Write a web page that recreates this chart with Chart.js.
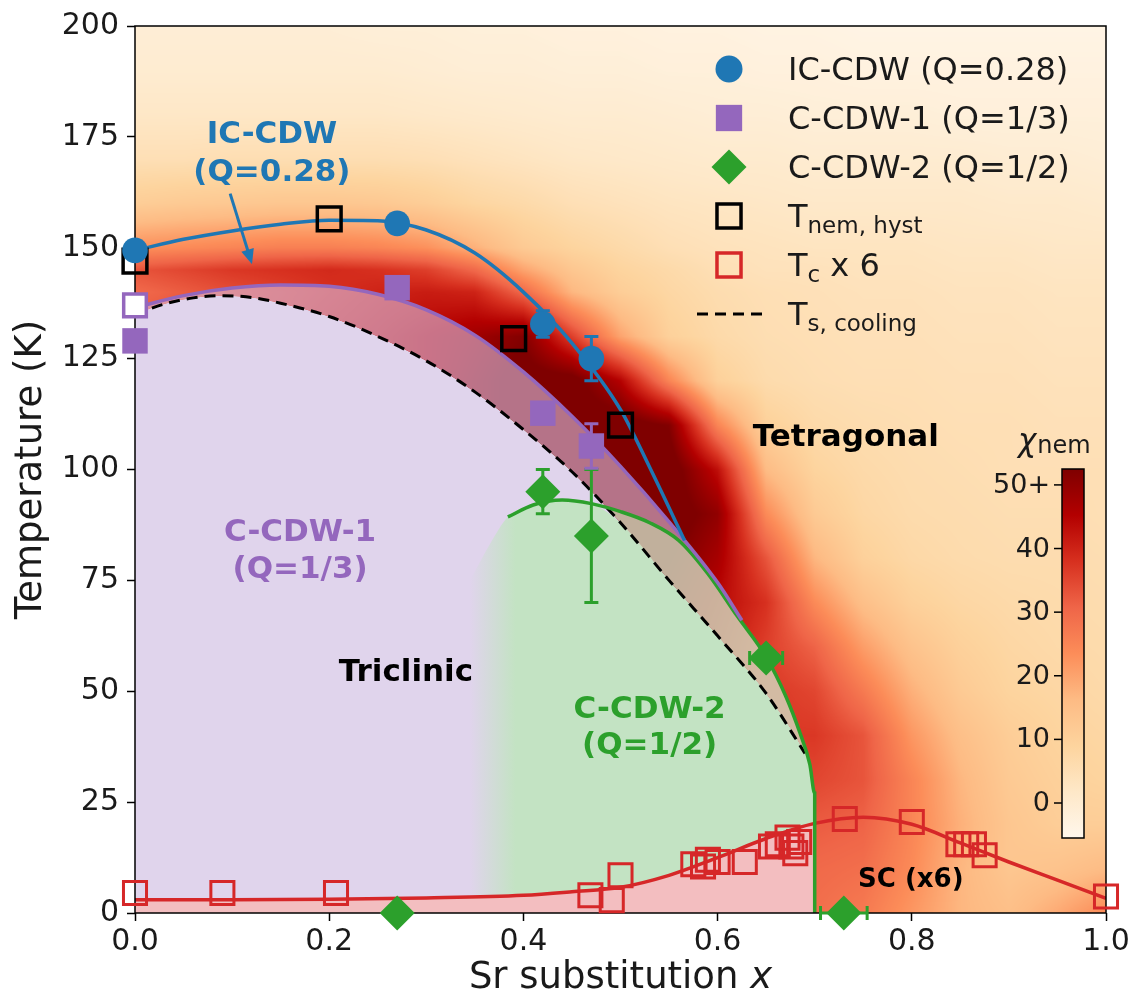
<!DOCTYPE html>
<html>
<head>
<meta charset="utf-8">
<title>Sr substitution phase diagram</title>
<script src="https://cdn.jsdelivr.net/npm/chart.js@4.4.1/dist/chart.umd.min.js"></script>
<style>
  html, body { margin: 0; padding: 0; background: #fff; }
  #wrap { width: 1135px; height: 1002px; position: relative; }
</style>
</head>
<body>
<div id="wrap"><canvas id="c"></canvas></div>
<script>
// ---------------- axis ticks ----------------
const xTickValues = [0, 0.2, 0.4, 0.6, 0.8, 1.0];
const yTickValues = [0, 25, 50, 75, 100, 125, 150, 175, 200];

// ---------------- measured transitions ----------------
// IC-CDW (Q=0.28)
const icX = [0, 0.27, 0.42, 0.47];
const icT = [149.4, 155.5, 132.8, 125];
const icErr = [0, 0, 3, 5];
// C-CDW-1 (Q=1/3)
const c1X = [0, 0.27, 0.42, 0.47];
const c1T = [129, 141, 112.7, 105.3];
const c1Err = [0, 0, 0, 5];
const c1OpenX = [0];
const c1OpenT = [137];
// C-CDW-2 (Q=1/2)
const c2X = [0.27, 0.42, 0.47, 0.65, 0.73];
const c2T = [0, 95, 85, 57.5, 0];
const c2Err = [0, 5, 15, 0, 0];
const c2XErr = [0, 0, 0, 0.017, 0.024];
// T_nem,hyst
const nemX = [0, 0.2, 0.39, 0.5];
const nemT = [147, 156.5, 129.5, 110];
// Tc x 6
const tcX = [0, 0.09, 0.207, 0.469, 0.491, 0.5, 0.575, 0.585, 0.59, 0.6, 0.628, 0.655, 0.662, 0.672, 0.676, 0.68, 0.684, 0.731, 0.8, 0.848, 0.856, 0.864, 0.875, 1.0];
const tcT = [4.5, 4.5, 4.5, 4, 2.9, 8.5, 11, 10.5, 12, 11.5, 11.5, 15, 15.5, 17, 15, 13.5, 16, 21.2, 20.5, 15.5, 15.5, 15.5, 13, 3.7];

// ---------------- boundary curves ----------------
const icFitX = [0, 0.05, 0.1, 0.15, 0.2, 0.25, 0.3, 0.35, 0.4, 0.45, 0.5, 0.53, 0.566];
const icFitT = [149.4, 151.9, 153.8, 155.3, 156.2, 156.1, 154, 148.8, 140, 128.5, 113.5, 100.5, 84];

const c1FitX = [0, 0.05, 0.1, 0.15, 0.2, 0.25, 0.3, 0.35, 0.4, 0.45, 0.5, 0.55, 0.6, 0.625];
const c1FitT = [136.5, 139.2, 140.9, 141.6, 141.3, 139.5, 136, 130.3, 122, 112, 100.7, 88.2, 74.5, 66];

const c2FitX = [0.384, 0.41, 0.44, 0.47, 0.5, 0.53, 0.56, 0.59, 0.62, 0.65, 0.67, 0.685, 0.695, 0.70, 0.70];
const c2FitT = [89.3, 92, 93.1, 92.3, 90.5, 88, 84, 76.5, 67, 57.7, 49, 40.5, 33.5, 27, 0];
// soft left edge of the C-CDW-2 shading
const c2EdgeX = [0.3, 0.33, 0.35, 0.365];
const c2EdgeT = [56, 69, 77, 83];

const tsX = [0, 0.03, 0.06, 0.09, 0.12, 0.15, 0.2, 0.25, 0.3, 0.35, 0.4, 0.45, 0.5, 0.55, 0.6, 0.65, 0.69];
const tsT = [135, 137.3, 138.7, 139.2, 138.8, 137.5, 134.5, 130, 124.5, 117.5, 109, 99.5, 88, 75, 62.5, 49.5, 36];

const tcFitX = [0, 0.1, 0.2, 0.3, 0.4, 0.45, 0.5, 0.55, 0.6, 0.65, 0.7, 0.75, 0.8, 0.85, 0.9, 0.95, 1.0];
const tcFitT = [3, 3, 3.1, 3.4, 4, 4.8, 5.8, 8.5, 12.5, 16.8, 20.2, 21.6, 20, 15.8, 11.5, 7.4, 3.3];

// ---------------- nematic susceptibility map ----------------
const chiX = [0, 0.05, 0.1, 0.15, 0.2, 0.25, 0.3, 0.35, 0.4, 0.45, 0.5, 0.55, 0.6, 0.65, 0.7, 0.75, 0.8, 0.85, 0.9, 0.95, 1.0];
const chiT = [0, 10, 20, 30, 40, 50, 60, 70, 80, 90, 100, 110, 120, 130, 140, 145, 150, 160, 170, 180, 190, 200];
const chiGrid = [
  [40,40,40,40,40,40,40,40,40,38,36,32,30,30,29,27,22,17,15,19,24],           // 0 K
  [40,40,40,40,40,40,40,40,40,38,36,32,30,30,30,29,24,17,13,14,16],           // 10
  [40,40,40,40,40,40,40,40,40,40,38,34,32,32,32,31,25,18,13,11,11],           // 20
  [40,40,40,40,40,40,40,40,42,42,40,36,34,34,35,33,25,17,12,10,9],            // 30
  [40,40,40,40,40,40,40,42,44,44,44,40,37,37,37,33,22,15,11,9,8],             // 40
  [40,40,40,40,40,40,42,44,46,48,48,44,40,37,35,27,18,12,9,8,7],              // 50
  [40,40,40,40,40,42,44,46,48,50,50,47,42,36,31,21,14,10,8,7,6.5],            // 60
  [40,40,40,40,42,44,46,48,50,52,52,50,44,38,24,15,10,8,7,6.5,6],             // 70
  [40,40,40,42,44,46,48,50,52,54,54,53,47,33,17,10,7.5,6.5,6,6,5.5],          // 80
  [40,40,40,42,44,46,48,50,54,55,55,56,50,24,12,8,6.5,6,5.5,5.5,5],           // 90
  [40,40,40,42,44,46,48,52,55,56,56,56,43,16,9,7,6,5.5,5,5,5],                // 100
  [38,38,38,40,42,44,46,50,55,56,56,52,25,10,7,6,5.5,5,5,4.5,4.5],            // 110
  [36,36,36,38,40,42,45,50,55,55,45,25,10,6.5,5.5,5,5,4.5,4.5,4,4],           // 120
  [34,34,35,37,40,42,45,48,52,36,20,10,7,5.5,5,4.5,4.5,4,4,3.5,3.5],          // 130
  [30,32,34,36,38,40,41,40,30,17,11,8,6,5,4.5,4,4,3.5,3.5,3,3],               // 140
  [33,35,37,38,39,38,36,30,20,13,9,7,5,4,4,3.5,3.5,3,3,2.5,2.5],              // 145
  [23,24,25,26,26,25,23,18,12,9,7,5,4,3.5,3,3,3,2.5,2.5,2,2],                 // 150
  [11,12,12.5,13,13,12.5,11,8.5,7,5,4,3,2.5,2,1.5,1.5,1.5,1.5,1,1,0.5],       // 160
  [5,5,5.5,5.5,5.5,5.5,5,4,3,2,1.5,1,0.5,0.5,0,0,0,0,-0.5,-0.5,-1],           // 170
  [2,2,2,2,2,2,1.5,1,0.5,0,0,-0.5,-1,-1,-1.5,-1.5,-1.5,-2,-2,-2,-2],          // 180
  [0,0,0,0,0,0,-0.5,-1,-1,-1.5,-1.5,-2,-2,-2.5,-2.5,-3,-3,-3,-3,-3,-3],       // 190
  [-1,-1,-1,-1,-1,-1.5,-1.5,-2,-2,-2.5,-2.5,-3,-3,-3.5,-3.5,-4,-4,-4,-4,-4,-4] // 200
];
const chiMin = -5.5;
const chiMax = 52.5;
const chiTicks = [0, 10, 20, 30, 40, 50];
const chiTickLabels = ['0', '10', '20', '30', '40', '50+'];

// ---------------- styling ----------------
const FONT = "'DejaVu Sans', 'Liberation Sans', sans-serif";
const C_BLUE = '#1f77b4', C_PURPLE = '#9467bd', C_GREEN = '#2ca02c', C_RED = '#d62728';
const ORRD = [[255,247,236],[254,232,200],[253,212,158],[253,187,132],[252,141,89],[239,101,72],[215,48,31],[179,0,0],[127,0,0]];

function chiColor(v) {
  let t = (v - chiMin) / (chiMax - chiMin);
  t = Math.max(0, Math.min(1, t));
  const p = t * (ORRD.length - 1);
  const i = Math.min(ORRD.length - 2, Math.floor(p));
  const f = p - i;
  return ORRD[i].map((c, k) => c + (ORRD[i + 1][k] - c) * f);
}

const pts = (xs, ys) => xs.map((x, i) => ({x, y: ys[i]}));

// region outlines assembled from the boundary curves
const tsPts = pts(tsX, tsT);
const c1Pts = pts(c1FitX, c1FitT);
const c2Pts = pts(c2FitX, c2FitT);
const tsEnd = tsX[tsX.length - 1];
const c2Tail = c2Pts.filter(p => p.x > tsEnd);
const lavBoundary = tsPts.concat(c2Tail);
const crossX = 0.47;
const greenBoundary = pts(c2EdgeX, c2EdgeT)
  .concat(c2Pts.filter(p => p.x <= crossX), tsPts.filter(p => p.x > crossX), c2Tail);
const c1End = c1FitX[c1FitX.length - 1];
const bandBoundary = c1Pts.concat(c2Pts.filter(p => p.x > c1End));
const tcFitPts = pts(tcFitX, tcFitT);
const pinkBoundary = tcFitPts.filter(p => p.x <= 0.70);

const curve = { pointRadius: 0, pointHoverRadius: 0, pointHitRadius: 0, cubicInterpolationMode: 'monotone', showLine: true };
const region = Object.assign({}, curve, { borderWidth: 0, borderColor: 'rgba(0,0,0,0)' });

function greenShade(ctx) {
  const chart = ctx.chart;
  if (!chart.chartArea || !chart.scales.x) return 'rgb(195,227,195)';
  const xs = chart.scales.x;
  const g = chart.ctx.createLinearGradient(xs.getPixelForValue(0.345), 0, xs.getPixelForValue(0.392), 0);
  g.addColorStop(0, 'rgba(195,227,195,0)');
  g.addColorStop(1, 'rgba(195,227,195,1)');
  return g;
}

const marker = (o) => Object.assign({ showLine: false, clip: false, pointHoverRadius: 0, pointHitRadius: 0 }, o);

const datasets = [
  // 0: triclinic region below T_s
  Object.assign({}, region, { data: lavBoundary, fill: 'origin', backgroundColor: '#e0d4ec', order: 100 }),
  // 1: C-CDW-2 region
  Object.assign({}, region, { data: greenBoundary, fill: 'origin', backgroundColor: greenShade, order: 99 }),
  // 2: CDW band above T_s
  Object.assign({}, region, { data: bandBoundary, fill: { target: 0, above: 'rgba(215,185,220,0.62)', below: 'rgba(0,0,0,0)' }, order: 98 }),
  // 3: C-CDW-2 band above T_s
  Object.assign({}, region, { data: c2Pts, fill: { target: 0, above: 'rgba(205,238,175,0.5)', below: 'rgba(0,0,0,0)' }, order: 97 }),
  // 4: superconducting dome
  Object.assign({}, region, { data: pinkBoundary, fill: 'origin', backgroundColor: '#f3bec0', order: 96 }),
  // boundary lines
  Object.assign({}, curve, { data: tsPts, borderColor: '#000', borderWidth: 3, borderDash: [11, 7], fill: false, order: 50 }),
  Object.assign({}, curve, { data: tcFitPts, borderColor: C_RED, borderWidth: 3.5, fill: false, order: 49 }),
  Object.assign({}, curve, { data: c2Pts, borderColor: C_GREEN, borderWidth: 3.5, fill: false, order: 48 }),
  Object.assign({}, curve, { data: c1Pts, borderColor: C_PURPLE, borderWidth: 3.5, fill: false, order: 47 }),
  Object.assign({}, curve, { data: pts(icFitX, icFitT), borderColor: C_BLUE, borderWidth: 3.5, fill: false, order: 46 }),
  // measured points
  marker({ label: 'Tc x 6', data: pts(tcX, tcT), pointStyle: 'rect', pointRadius: 16.3,
    pointBackgroundColor: 'rgba(0,0,0,0)', pointBorderColor: C_RED, pointBorderWidth: 3, order: 10, frameBefore: true }),
  marker({ label: 'C-CDW-2 (Q=1/2)', data: pts(c2X, c2T), pointStyle: 'rectRot', pointRadius: 17.5,
    pointBackgroundColor: C_GREEN, pointBorderColor: C_GREEN, pointBorderWidth: 0, errY: c2Err, errX: c2XErr, errColor: C_GREEN, order: 9 }),
  marker({ label: 'C-CDW-1 (Q=1/3)', data: pts(c1X, c1T), pointStyle: 'rect', pointRadius: 18,
    pointBackgroundColor: C_PURPLE, pointBorderColor: C_PURPLE, pointBorderWidth: 0, errY: c1Err, errColor: C_PURPLE, order: 8 }),
  marker({ label: 'C-CDW-1 open', data: pts(c1OpenX, c1OpenT), pointStyle: 'rect', pointRadius: 16,
    pointBackgroundColor: '#fff', pointBorderColor: C_PURPLE, pointBorderWidth: 3.5, order: 7 }),
  marker({ label: 'Tnem,hyst', data: pts(nemX, nemT), pointStyle: 'rect', pointRadius: 16.8,
    pointBackgroundColor: 'rgba(0,0,0,0)', pointBorderColor: '#000', pointBorderWidth: 3.5, order: 6 }),
  marker({ label: 'IC-CDW (Q=0.28)', data: pts(icX, icT), pointStyle: 'circle', pointRadius: 12.8,
    pointBackgroundColor: C_BLUE, pointBorderColor: C_BLUE, pointBorderWidth: 0, errY: icErr, errColor: C_BLUE, order: 5 })
];

// ---------------- text on the plot ----------------
const notes = [
  { text: 'IC-CDW', x: 0.141, y: 175.4, color: C_BLUE },
  { text: '(Q=0.28)', x: 0.141, y: 166.9, color: C_BLUE },
  { text: 'C-CDW-1', x: 0.170, y: 85.7, color: C_PURPLE },
  { text: '(Q=1/3)', x: 0.170, y: 77.4, color: C_PURPLE },
  { text: 'Triclinic', x: 0.279, y: 54.2, color: '#000' },
  { text: 'C-CDW-2', x: 0.530, y: 45.7, color: C_GREEN },
  { text: '(Q=1/2)', x: 0.530, y: 37.6, color: C_GREEN },
  { text: 'Tetragonal', x: 0.732, y: 107.1, color: '#000' },
  { text: 'SC (x6)', x: 0.799, y: 7.4, color: '#000', size: 26 }
];
const pointer = { from: [0.098, 162.2], to: [0.1205, 146.3], color: C_BLUE };

const legendRows = [
  { style: 'circle', radius: 13.5, fill: C_BLUE, parts: [['IC-CDW (Q=0.28)']] },
  { style: 'rect', radius: 18.6, fill: C_PURPLE, parts: [['C-CDW-1 (Q=1/3)']] },
  { style: 'rectRot', radius: 17.5, fill: C_GREEN, parts: [['C-CDW-2 (Q=1/2)']] },
  { style: 'rect', radius: 17, stroke: '#000', parts: [['T'], ['nem, hyst', 'sub']] },
  { style: 'rect', radius: 17, stroke: C_RED, parts: [['T'], ['c', 'sub'], [' x 6']] },
  { style: 'dash', stroke: '#000', parts: [['T'], ['s, cooling', 'sub']] }
];

// ---------------- drawing helpers ----------------
function drawChiMap(chart) {
  const a = chart.chartArea, xs = chart.scales.x, ys = chart.scales.y;
  const w = Math.round(a.right - a.left), h = Math.round(a.bottom - a.top);
  const off = document.createElement('canvas');
  off.width = w; off.height = h;
  const octx = off.getContext('2d');
  const img = octx.createImageData(w, h);
  const locate = (arr, v) => {
    let k = 0;
    while (k < arr.length - 2 && v > arr[k + 1]) k++;
    const f = Math.max(0, Math.min(1, (v - arr[k]) / (arr[k + 1] - arr[k])));
    return [k, f];
  };
  const cols = [], rows = [];
  for (let i = 0; i < w; i++) cols.push(locate(chiX, xs.getValueForPixel(a.left + i + 0.5)));
  for (let j = 0; j < h; j++) rows.push(locate(chiT, ys.getValueForPixel(a.top + j + 0.5)));
  const lut = [];
  for (let n = 0; n <= 512; n++) lut.push(chiColor(chiMin + (chiMax - chiMin) * n / 512));
  let p = 0;
  for (let j = 0; j < h; j++) {
    const [r, fr] = rows[j];
    const g0 = chiGrid[r], g1 = chiGrid[r + 1];
    for (let i = 0; i < w; i++) {
      const [c, fc] = cols[i];
      const v0 = g0[c] + (g0[c + 1] - g0[c]) * fc;
      const v1 = g1[c] + (g1[c + 1] - g1[c]) * fc;
      const v = v0 + (v1 - v0) * fr;
      let n = Math.round((v - chiMin) / (chiMax - chiMin) * 512);
      n = Math.max(0, Math.min(512, n));
      const col = lut[n];
      img.data[p++] = col[0]; img.data[p++] = col[1]; img.data[p++] = col[2]; img.data[p++] = 255;
    }
  }
  octx.putImageData(img, 0, 0);
  chart.ctx.drawImage(off, a.left, a.top);
}

function drawFrame(chart) {
  const a = chart.chartArea, ctx = chart.ctx;
  ctx.save();
  ctx.strokeStyle = '#000';
  ctx.lineWidth = 1.5;
  ctx.strokeRect(a.left, a.top, a.right - a.left, a.bottom - a.top);
  ctx.restore();
}

function drawErrorBars(chart, ds) {
  const ctx = chart.ctx, xs = chart.scales.x, ys = chart.scales.y;
  ctx.save();
  ctx.strokeStyle = ds.errColor;
  ctx.lineWidth = 3;
  const cap = 7;
  ds.data.forEach((d, i) => {
    const px = xs.getPixelForValue(d.x), py = ys.getPixelForValue(d.y);
    const ey = ds.errY ? ds.errY[i] : 0;
    const ex = ds.errX ? ds.errX[i] : 0;
    ctx.beginPath();
    if (ey > 0) {
      const y1 = ys.getPixelForValue(d.y - ey), y2 = ys.getPixelForValue(d.y + ey);
      ctx.moveTo(px, y1); ctx.lineTo(px, y2);
      ctx.moveTo(px - cap, y1); ctx.lineTo(px + cap, y1);
      ctx.moveTo(px - cap, y2); ctx.lineTo(px + cap, y2);
    }
    if (ex > 0) {
      const x1 = xs.getPixelForValue(d.x - ex), x2 = xs.getPixelForValue(d.x + ex);
      ctx.moveTo(x1, py); ctx.lineTo(x2, py);
      ctx.moveTo(x1, py - cap); ctx.lineTo(x1, py + cap);
      ctx.moveTo(x2, py - cap); ctx.lineTo(x2, py + cap);
    }
    ctx.stroke();
  });
  ctx.restore();
}

function drawNotes(chart) {
  const ctx = chart.ctx, xs = chart.scales.x, ys = chart.scales.y;
  ctx.save();
  ctx.textAlign = 'center';
  ctx.textBaseline = 'middle';
  for (const n of notes) {
    ctx.font = 'bold ' + (n.size || 31) + 'px ' + FONT;
    ctx.fillStyle = n.color;
    ctx.fillText(n.text, xs.getPixelForValue(n.x), ys.getPixelForValue(n.y));
  }
  // pointer from the IC-CDW label
  const x1 = xs.getPixelForValue(pointer.from[0]), y1 = ys.getPixelForValue(pointer.from[1]);
  const x2 = xs.getPixelForValue(pointer.to[0]), y2 = ys.getPixelForValue(pointer.to[1]);
  const ang = Math.atan2(y2 - y1, x2 - x1), hl = 15, hw = 6.5;
  const cs = Math.cos(ang), sn = Math.sin(ang);
  ctx.strokeStyle = pointer.color;
  ctx.fillStyle = pointer.color;
  ctx.lineWidth = 3;
  ctx.beginPath();
  ctx.moveTo(x1, y1);
  ctx.lineTo(x2 - hl * cs * 0.7, y2 - hl * sn * 0.7);
  ctx.stroke();
  ctx.beginPath();
  ctx.moveTo(x2, y2);
  ctx.lineTo(x2 - hl * cs + hw * sn, y2 - hl * sn - hw * cs);
  ctx.lineTo(x2 - hl * cs - hw * sn, y2 - hl * sn + hw * cs);
  ctx.closePath();
  ctx.fill();
  ctx.restore();
}

function drawRich(ctx, parts, x, y, size, subSize) {
  let cx = x;
  for (const [t, kind] of parts) {
    const sub = kind === 'sub';
    ctx.font = (sub ? subSize : size) + 'px ' + FONT;
    ctx.fillText(t, cx, y + (sub ? 6 : 0));
    cx += ctx.measureText(t).width;
  }
}

function drawLegendBox(chart) {
  const ctx = chart.ctx, a = chart.chartArea;
  const mx = a.right - 377, tx = a.right - 318;
  ctx.save();
  legendRows.forEach((row, i) => {
    const cy = a.top + 43 + i * 49;
    if (row.style === 'dash') {
      ctx.strokeStyle = row.stroke;
      ctx.lineWidth = 3;
      ctx.setLineDash([11, 7]);
      ctx.beginPath();
      ctx.moveTo(mx - 32, cy); ctx.lineTo(mx + 34, cy);
      ctx.stroke();
      ctx.setLineDash([]);
    } else {
      ctx.fillStyle = row.fill || 'rgba(0,0,0,0)';
      ctx.strokeStyle = row.stroke || 'rgba(0,0,0,0)';
      ctx.lineWidth = row.stroke ? 3.5 : 0;
      Chart.helpers.drawPoint(ctx, { pointStyle: row.style, radius: row.radius, rotation: 0, borderWidth: row.stroke ? 3.5 : 0 }, mx, cy);
    }
    ctx.fillStyle = '#1a1a1a';
    ctx.textAlign = 'left';
    ctx.textBaseline = 'alphabetic';
    drawRich(ctx, row.parts, tx, cy + 11, 32, 23);
  });
  ctx.restore();
}

function drawColorbar(chart) {
  const ctx = chart.ctx, a = chart.chartArea;
  const left = a.right - 44, right = a.right - 22, top = a.top + 443, bottom = a.bottom - 75;
  const yOf = v => bottom - (v - chiMin) / (chiMax - chiMin) * (bottom - top);
  ctx.save();
  const g = ctx.createLinearGradient(0, bottom, 0, top);
  ORRD.forEach((c, k) => g.addColorStop(k / (ORRD.length - 1), 'rgb(' + c.join(',') + ')'));
  ctx.fillStyle = g;
  ctx.fillRect(left, top, right - left, bottom - top);
  ctx.strokeStyle = '#000';
  ctx.lineWidth = 1.5;
  ctx.strokeRect(left, top, right - left, bottom - top);
  ctx.font = '27px ' + FONT;
  ctx.fillStyle = '#1a1a1a';
  ctx.textAlign = 'right';
  ctx.textBaseline = 'middle';
  chiTicks.forEach((v, i) => {
    const y = yOf(v);
    ctx.beginPath();
    ctx.moveTo(left - 8, y); ctx.lineTo(left, y);
    ctx.stroke();
    ctx.fillText(chiTickLabels[i], left - 12, y + 1);
  });
  // colorbar title
  ctx.textAlign = 'left';
  ctx.textBaseline = 'alphabetic';
  ctx.font = 'italic 31px ' + FONT;
  ctx.fillText('\u03c7', left - 44, top - 18);
  const cw = ctx.measureText('\u03c7').width;
  ctx.font = '24px ' + FONT;
  ctx.fillText('nem', left - 44 + cw + 1, top - 16);
  ctx.restore();
}

function drawAxisTitles(chart) {
  const ctx = chart.ctx, a = chart.chartArea;
  const size = 37;
  ctx.save();
  ctx.fillStyle = '#1a1a1a';
  ctx.textBaseline = 'middle';
  // x title with italic variable
  const t1 = 'Sr substitution ', t2 = 'x';
  ctx.font = size + 'px ' + FONT;
  const w1 = ctx.measureText(t1).width;
  ctx.font = 'italic ' + size + 'px ' + FONT;
  const w2 = ctx.measureText(t2).width;
  const x0 = (a.left + a.right) / 2 - (w1 + w2) / 2;
  ctx.textAlign = 'left';
  ctx.font = size + 'px ' + FONT;
  ctx.fillText(t1, x0, 978);
  ctx.font = 'italic ' + size + 'px ' + FONT;
  ctx.fillText(t2, x0 + w1, 978);
  // y title
  ctx.translate(31, (a.top + a.bottom) / 2);
  ctx.rotate(-Math.PI / 2);
  ctx.textAlign = 'center';
  ctx.font = size + 'px ' + FONT;
  ctx.fillText('Temperature (K)', 0, 0);
  ctx.restore();
}

const phasePlugin = {
  id: 'phaseArt',
  beforeDraw(chart) {
    const ctx = chart.ctx;
    ctx.save();
    ctx.fillStyle = '#fff';
    ctx.fillRect(0, 0, chart.width, chart.height);
    ctx.restore();
    drawChiMap(chart);
  },
  beforeDatasetDraw(chart, args) {
    const ds = chart.data.datasets[args.index];
    if (ds.frameBefore) drawFrame(chart);
    if (ds.errY || ds.errX) drawErrorBars(chart, ds);
  },
  afterDatasetsDraw(chart) {
    drawNotes(chart);
    drawLegendBox(chart);
    drawColorbar(chart);
  },
  afterDraw(chart) {
    drawAxisTitles(chart);
  }
};

const tickFont = { family: FONT, size: 30 };

new Chart(document.getElementById('c'), {
  type: 'line',
  data: { datasets },
  options: {
    responsive: true,
    maintainAspectRatio: false,
    animation: false,
    events: [],
    layout: { padding: { left: 0, top: 24, right: 29, bottom: 0 } },
    plugins: { legend: { display: false }, tooltip: { enabled: false } },
    scales: {
      x: {
        type: 'linear', min: 0, max: 1,
        afterBuildTicks: s => { s.ticks = xTickValues.map(v => ({ value: v })); },
        afterFit: s => { s.height = 89; },
        ticks: { callback: v => Number(v).toFixed(1), font: tickFont, color: '#1a1a1a', padding: 3, maxRotation: 0, autoSkip: false },
        grid: { display: true, drawOnChartArea: false, drawTicks: true, tickLength: 8, tickColor: '#000', tickWidth: 1.5 },
        border: { display: false }
      },
      y: {
        type: 'linear', min: 0, max: 200,
        afterBuildTicks: s => { s.ticks = yTickValues.map(v => ({ value: v })); },
        afterFit: s => { s.width = 135; },
        ticks: { font: tickFont, color: '#1a1a1a', padding: 8, autoSkip: false },
        grid: { display: true, drawOnChartArea: false, drawTicks: true, tickLength: 8, tickColor: '#000', tickWidth: 1.5 },
        border: { display: false }
      }
    }
  },
  plugins: [phasePlugin]
});
</script>
</body>
</html>
